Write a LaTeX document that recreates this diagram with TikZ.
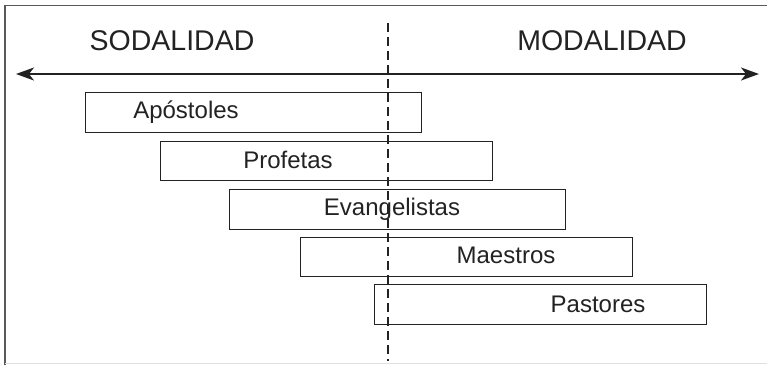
\documentclass[tikz,border=0pt]{standalone}
\usepackage{fontspec}
\setmainfont{Liberation Sans}
\usetikzlibrary{arrows.meta}
\definecolor{ink}{HTML}{222222}
\begin{document}
\begin{tikzpicture}[x=1pt,y=-1pt,
  bar/.style={draw=ink,line width=1.2pt,inner sep=0pt,anchor=north west},
  lbl/.style={text=ink,font=\fontsize{24}{28}\selectfont,anchor=base,inner sep=0pt},
  head/.style={text=ink,font=\fontsize{28.5}{32}\selectfont,anchor=base,inner sep=0pt},
  twoway/.style={arrows={Stealth[length=18pt,width=13pt,inset=5pt]-Stealth[length=18pt,width=13pt,inset=5pt]}}]
\useasboundingbox (0,0) rectangle (767,365);
% frame
\draw[draw=black!65,line width=1.5pt] (5,365) -- (5,5.5) -- (767,5.5);
\draw[draw=black!12,line width=1pt] (5,363.5) -- (767,363.5);
% headings
\node[head] (sod) at (172,50) {SODALIDAD};
\node[head] (mod) at (602,50) {MODALIDAD};
% axis arrow
\coordinate (al) at (16,74);
\coordinate (ar) at (759,74);
\draw[ink,line width=1.5pt,twoway] (al) -- (ar);
% boxes
\node[bar,minimum width=336pt,minimum height=40pt] (b1) at (85,92) {};
\node[bar,minimum width=332pt,minimum height=39pt] (b2) at (160,141) {};
\node[bar,minimum width=336pt,minimum height=40pt] (b3) at (229,189) {};
\node[bar,minimum width=332pt,minimum height=39pt] (b4) at (300,237) {};
\node[bar,minimum width=332pt,minimum height=40pt] (b5) at (374,284) {};
% labels
\node[lbl] (t1) at (186,118) {Apóstoles};
\node[lbl] (t2) at (288,168) {Profetas};
\node[lbl] (t3) at (392,215) {Evangelistas};
\node[lbl] (t4) at (506,263) {Maestros};
\node[lbl] (t5) at (598,312) {Pastores};
% dashed divider
\coordinate (dt) at (388,23);
\coordinate (db) at (388,361);
\draw[ink,line width=1.1pt,dash pattern=on 8.5pt off 5.5pt] (dt) -- (db);
\end{tikzpicture}
\end{document}
